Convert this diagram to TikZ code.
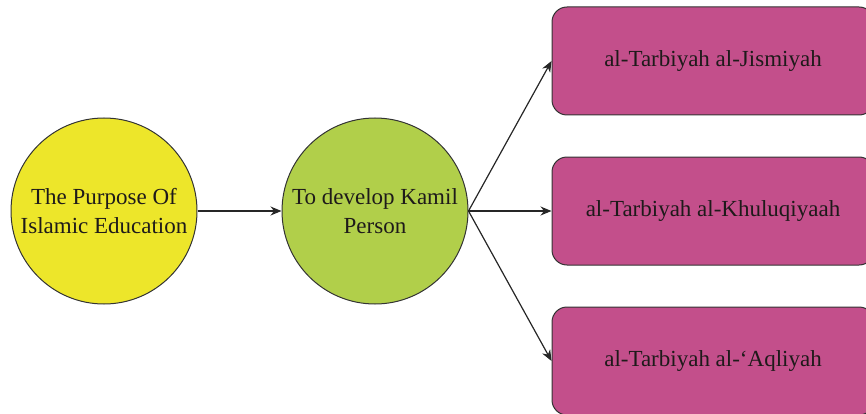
\documentclass[tikz,border=0pt]{standalone}
\usepackage{fontspec}
\setmainfont{Liberation Serif}
\usetikzlibrary{arrows.meta}
\definecolor{cyellow}{HTML}{EDE62A}
\definecolor{cgreen}{HTML}{B1CF4A}
\definecolor{cmag}{HTML}{C34F8B}
\definecolor{cline}{HTML}{333333}
\definecolor{ctext}{HTML}{1E1A1A}
\begin{document}
\begin{tikzpicture}[x=1pt,y=1pt,
  circ/.style={circle,draw=cline,line width=1pt,minimum size=186pt,inner sep=0pt,align=center,
    font=\fontsize{23}{29}\selectfont,text=ctext},
  outbox/.style={draw=cline,line width=1pt,fill=cmag,rounded corners=15pt,minimum width=322pt,
    minimum height=108pt,inner sep=0pt,font=\fontsize{23}{29}\selectfont,text=ctext},
  conn/.style={draw=black!85,line width=1.2pt,-{Stealth[length=11pt,width=9pt]}}]
\useasboundingbox (0,0) rectangle (866,413);
\begin{scope}
\clip (0,0) rectangle (866,413);
\node[circ,fill=cyellow] (purpose) at (104,202) {The Purpose Of\\Islamic Education};
\node[circ,fill=cgreen] (kamil) at (375,202) {To develop Kamil\\Person};
\node[outbox] (jis) at (713,352) {al-Tarbiyah al-Jismiyah};
\node[outbox] (khu) at (713,202) {al-Tarbiyah al-Khuluqiyaah};
\node[outbox] (aql) at (713,52) {al-Tarbiyah al-‘Aqliyah};
\draw[conn] (purpose.east) -- (kamil.west);
\draw[conn] (kamil.east) -- (jis.west);
\draw[conn] (kamil.east) -- (khu.west);
\draw[conn] (kamil.east) -- (aql.west);
\end{scope}
\end{tikzpicture}
\end{document}
